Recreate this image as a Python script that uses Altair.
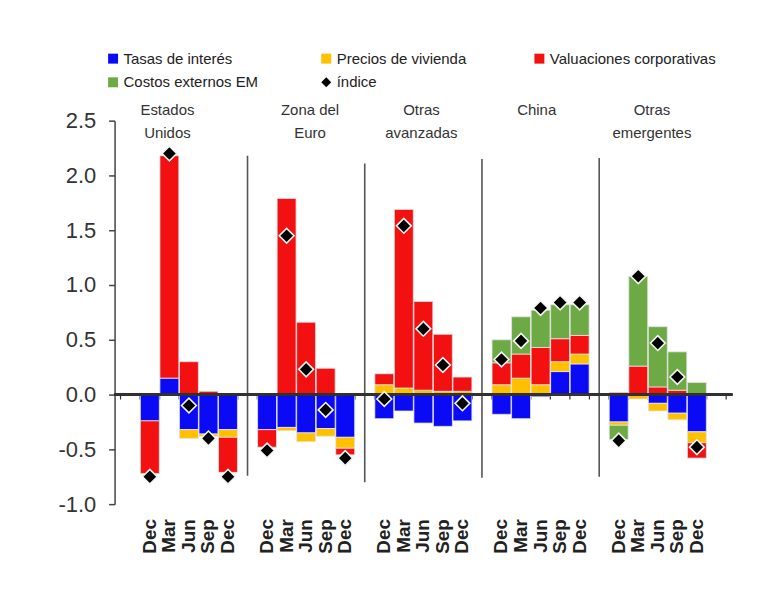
import altair as alt
import pandas as pd

# ---------------- data ----------------
regions = ["Estados Unidos", "Zona del Euro", "Otras avanzadas", "China", "Otras emergentes"]
region_titles = ["Estados\nUnidos", "Zona del\nEuro", "Otras\navanzadas", "China", "Otras\nemergentes"]
months = ["Dec", "Mar", "Jun", "Sep", "Dec"]
components = ["Tasas de interés", "Precios de vivienda", "Valuaciones corporativas", "Costos externos EM"]
index_name = "índice"

# values per bar: 5 regions x 5 quarters
tasas = [-0.24, 0.15, -0.32, -0.36, -0.32,
         -0.32, -0.30, -0.35, -0.31, -0.39,
         -0.22, -0.15, -0.26, -0.29, -0.24,
         -0.18, -0.22, -0.02, 0.21, 0.28,
         -0.25, 0.00, -0.08, -0.17, -0.34]
precios = [0.01, 0.00, -0.08, -0.02, -0.07,
           0.00, -0.03, -0.08, -0.07, -0.10,
           0.09, 0.06, 0.04, 0.03, 0.03,
           0.09, 0.15, 0.09, 0.09, 0.09,
           -0.03, -0.04, -0.07, -0.06, -0.10]
valuaciones = [-0.48, 2.03, 0.30, 0.03, -0.32,
               -0.16, 1.79, 0.66, 0.24, -0.06,
               0.10, 1.63, 0.81, 0.52, 0.13,
               0.20, 0.22, 0.34, 0.21, 0.17,
               0.02, 0.26, 0.07, 0.04, -0.14]
costos = [0.00, 0.00, 0.00, 0.00, 0.00,
          0.00, 0.00, 0.00, 0.00, 0.00,
          0.00, 0.00, 0.00, 0.00, 0.00,
          0.21, 0.34, 0.34, 0.31, 0.28,
          -0.13, 0.82, 0.55, 0.35, 0.11]
indice = [-0.75, 2.20, -0.10, -0.40, -0.75,
          -0.51, 1.45, 0.23, -0.14, -0.58,
          -0.04, 1.54, 0.60, 0.27, -0.08,
          0.32, 0.49, 0.79, 0.84, 0.84,
          -0.42, 1.08, 0.47, 0.16, -0.48]

# separators between regions (top / bottom of each line)
sep_top = [2.18, 2.11, 2.15, 2.16]
sep_bottom = [-0.74, -0.80, -0.76, -0.75]

# ---------------- layout helpers ----------------
SLOTS = 6  # 5 bars + 1 gap per region
title_shift = [-1.1, 0.2, -0.1, -0.2, -0.3]

series_values = [tasas, precios, valuaciones, costos]
rows = []
for ci, (comp, vals) in enumerate(zip(components, series_values)):
    for i, v in enumerate(vals):
        g, m = divmod(i, 5)
        if v != 0:
            rows.append({"pos": g * SLOTS + m, "value": v, "series": comp, "order": ci})
bars_df = pd.DataFrame(rows)

idx_df = pd.DataFrame([
    {"pos": (i // 5) * SLOTS + i % 5, "value": v, "series": index_name}
    for i, v in enumerate(indice)
])

month_df = pd.DataFrame([
    {"pos": g * SLOTS + m, "month": months[m]} for g in range(5) for m in range(5)
])

titles_df = pd.DataFrame([
    {"pos": g * SLOTS + 2 + title_shift[g], "label": t} for g, t in enumerate(region_titles)
])

sep_df = pd.DataFrame([
    {"pos": (g + 1) * SLOTS - 1, "top": sep_top[g], "bottom": sep_bottom[g]} for g in range(4)
])

tick_df = pd.DataFrame({"pos": [k + 0.5 for k in range(-2, 5 * SLOTS)]})

# ---------------- scales ----------------
FONT = "Liberation Sans"
W, H = 620, 385
xscale = alt.Scale(domain=[-1.55, 29.55], nice=False, zero=False)
yscale = alt.Scale(domain=[-1.0, 2.5], nice=False, zero=False)
all_series = components + [index_name]
color_scale = alt.Scale(domain=all_series,
                        range=["#0A0AF5", "#FFC000", "#F21010", "#6DAA45", "#000000"])
shape_scale = alt.Scale(domain=all_series,
                        range=["square", "square", "square", "square", "diamond"])

legend = alt.Legend(
    title=None, orient="none", legendX=-9, legendY=-70, columns=3, direction="horizontal",
    gridAlign="all", columnPadding=29, rowPadding=8, padding=0, symbolSize=100,
    symbolStrokeWidth=0, labelFontSize=15, labelFont=FONT, labelColor="#222",
    labelOffset=3, labelLimit=0,
)

y_axis = alt.Axis(
    values=[-1.0, -0.5, 0.0, 0.5, 1.0, 1.5, 2.0, 2.5],
    labelExpr="replace(format(datum.value, '.1f'), '\u2212', '-')",
    labelFontSize=22, labelFont=FONT, labelColor="#333", labelPadding=13, labelFlush=False,
    domainColor="#444", domainWidth=1.5, tickColor="#444", tickWidth=1.5, tickSize=6,
    grid=False, title=None,
)

# ---------------- layers ----------------
ticks = alt.Chart(tick_df).mark_rule(color="#333", strokeWidth=1.2).encode(
    x=alt.X("pos:Q", scale=xscale, axis=None),
    y=alt.datum(0),
    y2=alt.datum(-0.045),
)

seps = alt.Chart(sep_df).mark_rule(color="#555", strokeWidth=1.6).encode(
    x=alt.X("pos:Q", scale=xscale, axis=None),
    y=alt.Y("top:Q", scale=yscale, axis=y_axis),
    y2="bottom:Q",
)

bars = alt.Chart(bars_df).mark_bar(size=19, stroke="#e4e4e4", strokeWidth=0.8).encode(
    x=alt.X("pos:Q", scale=xscale, axis=None),
    y=alt.Y("value:Q", stack="zero", scale=yscale, axis=y_axis),
    color=alt.Color("series:N", scale=color_scale, legend=legend),
    order=alt.Order("order:Q"),
)

zero_line = alt.Chart(tick_df).mark_rule(color="#333", strokeWidth=1.5).encode(
    y=alt.datum(0),
)

points = alt.Chart(idx_df).mark_point(
    filled=True, size=220, stroke="#f4f4f4", strokeWidth=1.6, opacity=1
).encode(
    x=alt.X("pos:Q", scale=xscale, axis=None),
    y=alt.Y("value:Q", scale=yscale, axis=y_axis),
    color=alt.Color("series:N", scale=color_scale, legend=legend),
    shape=alt.Shape("series:N", scale=shape_scale, legend=legend),
)

titles = alt.Chart(titles_df).mark_text(
    lineBreak="\n", baseline="top", align="center", fontSize=15, lineHeight=23,
    font=FONT, color="#333",
).encode(
    x=alt.X("pos:Q", scale=xscale, axis=None),
    y=alt.value(-18),
    text="label:N",
)

month_labels = alt.Chart(month_df).mark_text(
    angle=270, align="right", baseline="middle", fontSize=19, fontWeight="bold",
    font=FONT, color="#222",
).encode(
    x=alt.X("pos:Q", scale=xscale, axis=None),
    y=alt.value(H + 15),
    text="month:N",
)

chart = alt.layer(ticks, seps, bars, zero_line, points, titles, month_labels).properties(
    width=W, height=H,
    autosize=alt.AutoSizeParams(type="none"),
    padding={"left": 107, "top": 112, "right": 35, "bottom": 60},
    background="white",
).configure_view(stroke=None)

chart.save("out.html", embed_options={"renderer": "svg", "actions": False})
